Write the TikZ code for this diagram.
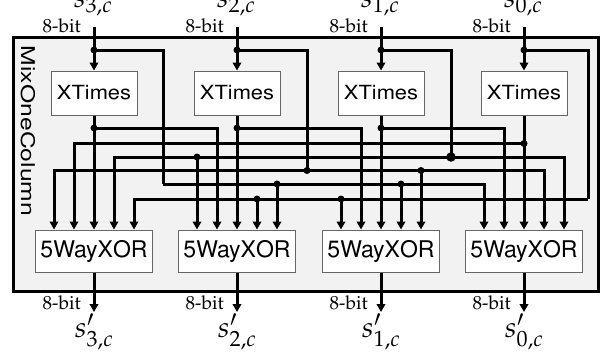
\documentclass[tikz,border=0pt]{standalone}
\usepackage[T1]{fontenc}
\usepackage{mathpazo}
\usepackage{helvet}
\usepackage{graphicx}
\usetikzlibrary{arrows.meta}
\tikzset{
  wire/.style={line width=3pt, line join=miter},
  arr/.style={wire, -{Triangle[length=8pt,width=8.5pt]}},
  jdot/.style={circle, fill=black, inner sep=0pt, minimum size=7pt},
  bigdot/.style={circle, fill=black, inner sep=0pt, minimum size=9.5pt},
  frame/.style={draw=black, line width=3pt, fill=black!5, minimum width=585pt, minimum height=254.5pt, inner sep=0pt},
  xtbox/.style={draw=black!60, line width=1pt, fill=white, minimum width=86pt, minimum height=44pt, inner sep=0pt,
    font=\fontsize{19.5}{21}\sffamily},
  xobox/.style={draw=black!60, line width=1pt, fill=white, minimum width=117pt, minimum height=42pt, inner sep=0pt,
    font=\fontsize{23}{25}\sffamily},
  slabel/.style={inner sep=0pt, font=\fontsize{29}{31}\selectfont},
  bitlabel/.style={inner sep=0pt, font=\fontsize{19}{21}\selectfont},
  mixlabel/.style={inner sep=0pt, rotate=-90, font=\fontsize{19}{21}\sffamily},
}
\begin{document}
\begin{tikzpicture}[x=1pt,y=-1pt]
\useasboundingbox (0,0) rectangle (605,360);
\node[frame] (mix) at (305.5,164.25) {};
\node[mixlabel] (mixname) at (28,131) {\scalebox{1.3}[1]{MixOneColumn}};
\foreach \i/\x in {3/94,2/237,1/381,0/524} {
  \node[xtbox] (xt\i) at (\x,93) {\scalebox{1.12}[1]{XTimes}};
  \node[xobox] (xo\i) at (\x,251) {5WayXOR};
  \node[slabel, anchor=base] (s\i) at (\x-1,7) {$s_{\i,c}$};
  \node[slabel, anchor=base] (so\i) at (\x,337) {$s'_{\i,c}$};
  \node[bitlabel, anchor=base east] (bi\i) at (\x-13,32) {8-bit};
  \node[bitlabel, anchor=base east] (bo\i) at (\x-13,309) {8-bit};
  \coordinate (t\i) at (\x,27);
  \coordinate (d\i) at (\x,50);
  \coordinate (e\i) at (\x,312);
  \coordinate (xo\i a) at ([xshift=-40pt]xo\i.north);
  \coordinate (xo\i b) at ([xshift=-20pt]xo\i.north);
  \coordinate (xo\i d) at ([xshift=20pt]xo\i.north);
  \coordinate (xo\i e) at ([xshift=40pt]xo\i.north);
  \draw[arr] (t\i) -- (xt\i.north);
  \draw[arr] (xo\i.south) -- (e\i);
  \draw[arr] (xt\i.south) -- (xo\i.north);
}
% XTimes outputs
\coordinate (x3) at (94,128);
\coordinate (x2) at (237,128);
\coordinate (x1) at (381,128);
\coordinate (x0) at (524,143.5);
\draw[arr] (x3) -| (xo2b);
\draw[arr] (x2) -| (xo1b);
\draw[arr] (x1) -| (xo0b);
\draw[arr] (x0) -| (xo3b);
% s3
\coordinate (c3) at (163,184);
\draw[wire] (d3) -| (c3);
\draw[arr] (c3) -| (xo0a);
\coordinate (j3a) at (xo2e |- c3);
\coordinate (j3b) at (xo1d |- c3);
\draw[arr] (j3a) -- (xo2e);
\draw[arr] (j3b) -- (xo1d);
% s2
\coordinate (c2) at (307,170.5);
\draw[wire] (d2) -| (c2);
\draw[arr] (c2) -| (xo3a);
\draw[arr] (c2) -| (xo0d);
\coordinate (j2) at (xo1e |- c2);
\draw[arr] (j2) -- (xo1e);
% s1
\coordinate (c1) at (451,157);
\draw[wire] (d1) -| (c1);
\draw[arr] (c1) -| (xo3d);
\draw[arr] (c1) -| (xo0e);
\coordinate (j1) at (xo2a |- c1);
\draw[arr] (j1) -- (xo2a);
% s0
\coordinate (c0) at (588,199);
\draw[wire] (d0) -| (c0);
\draw[arr] (c0) -| (xo3e);
\coordinate (j0a) at (xo2d |- c0);
\coordinate (j0b) at (xo1a |- c0);
\draw[arr] (j0a) -- (xo2d);
\draw[arr] (j0b) -- (xo1a);
% dots
\foreach \p in {d3,d2,d1,d0,x3,x2,x1,x0,j3a,j3b,c2,j2,j1,j0a,j0b}
  \node[jdot] at (\p) {};
\node[bigdot] at (c1) {};
\end{tikzpicture}
\end{document}
